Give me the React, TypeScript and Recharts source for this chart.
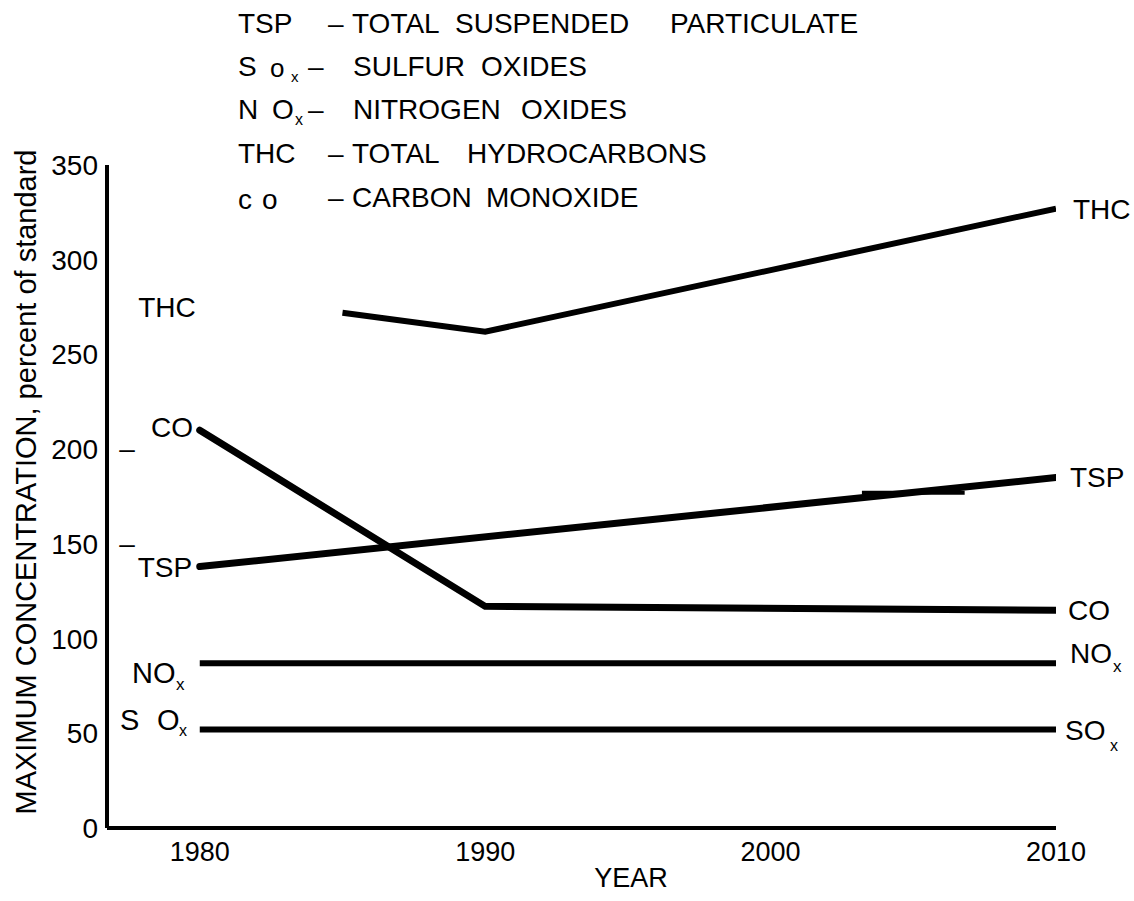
import React from 'react'
import { LineChart, Line, XAxis, YAxis } from 'recharts'

// values (percent of standard)
const years = [1980, 1985, 1990, 2010]
const thc = [null, 272, 262, 327]
const co = [210, null, 117, 115]
const tsp = [138, null, null, 185]
const nox = [87, null, null, 87]
const sox = [52, null, null, 52]

// short overdrawn stroke on the TSP line
const tspStubYears = [2003.2, 2006.8]
const tspStubValues = [177, 177]

const xTicks = [1980, 1990, 2000, 2010]
const yTicks = [0, 50, 100, 150, 200, 250, 300, 350]

const legendRows = [
  { abbr: 'TSP', words: [['TOTAL', 352], ['SUSPENDED', 455], ['PARTICULATE', 670]] },
  { abbr: 'SOx', words: [['SULFUR', 353], ['OXIDES', 481]] },
  { abbr: 'NOx', words: [['NITROGEN', 353], ['OXIDES', 521]] },
  { abbr: 'THC', words: [['TOTAL', 352], ['HYDROCARBONS', 467]] },
  { abbr: 'CO', words: [['CARBON', 352], ['MONOXIDE', 486]] },
]
const legendY = [23, 66, 109, 153, 197]

const font = '"Liberation Sans", Arial, Helvetica, sans-serif'

const data = years.map((year, i) => ({
  year,
  thc: thc[i],
  co: co[i],
  tsp: tsp[i],
  nox: nox[i],
  sox: sox[i],
}))
const stubData = tspStubYears.map((year, i) => ({ year, stub: tspStubValues[i] }))

function T({ x, y, size = 28, anchor = 'start', children }: any) {
  return (
    <text x={x} y={y} fontSize={size} textAnchor={anchor} dominantBaseline="central" fill="#000" fontFamily={font}>
      {children}
    </text>
  )
}

function Overlay() {
  return (
    <svg width={1134} height={901} style={{ position: 'absolute', left: 0, top: 0, pointerEvents: 'none' }}>
      {/* legend block */}
      {legendRows.map((row, i) => {
        const y = legendY[i]
        let abbr
        if (row.abbr === 'SOx') {
          abbr = (
            <g>
              <T x={238} y={y}>S</T>
              <T x={270} y={y + 2} size={26}>o</T>
              <T x={291} y={y + 10} size={15}>x</T>
              <T x={308} y={y}>–</T>
            </g>
          )
        } else if (row.abbr === 'NOx') {
          abbr = (
            <g>
              <T x={238} y={y}>N</T>
              <T x={272} y={y}>O</T>
              <T x={295} y={y + 10} size={16}>x</T>
              <T x={308} y={y}>–</T>
            </g>
          )
        } else if (row.abbr === 'CO') {
          abbr = (
            <g>
              <T x={238} y={y + 2}>c</T>
              <T x={262} y={y + 2}>o</T>
              <T x={328} y={y}>–</T>
            </g>
          )
        } else {
          abbr = (
            <g>
              <T x={238} y={y}>{row.abbr}</T>
              <T x={328} y={y}>–</T>
            </g>
          )
        }
        return (
          <g key={i}>
            {abbr}
            {row.words.map(([w, x]) => (
              <T key={w + x} x={x} y={y}>{w}</T>
            ))}
          </g>
        )
      })}

      {/* y axis title */}
      <text
        transform="translate(26,482) rotate(-90)"
        fontSize={29}
        textAnchor="middle"
        dominantBaseline="central"
        fontFamily={font}
        fill="#000"
      >
        MAXIMUM CONCENTRATION, percent of standard
      </text>

      {/* x axis title */}
      <T x={631} y={878} size={27} anchor="middle">YEAR</T>

      {/* left-hand series labels */}
      <T x={167} y={307} anchor="middle">THC</T>
      <T x={127} y={448} anchor="middle">–</T>
      <T x={172} y={427} anchor="middle">CO</T>
      <T x={127} y={543} anchor="middle">–</T>
      <T x={165} y={567} anchor="middle">TSP</T>
      <T x={132} y={673} size={29}>NO</T>
      <T x={176} y={684} size={17}>x</T>
      <T x={120} y={720} size={29}>S</T>
      <T x={157} y={720} size={29}>O</T>
      <T x={179} y={730} size={16}>x</T>

      {/* right-hand series labels */}
      <T x={1073} y={209}>THC</T>
      <T x={1070} y={477}>TSP</T>
      <T x={1068} y={610}>CO</T>
      <T x={1070} y={653}>NO</T>
      <T x={1113} y={666} size={17}>x</T>
      <T x={1065} y={730}>SO</T>
      <T x={1110} y={745} size={16}>x</T>
    </svg>
  )
}

export default function App() {
  return (
    <div style={{ position: 'absolute', left: 0, top: 0, width: 1134, height: 901, background: '#fff' }}>
      <LineChart width={1134} height={901} data={data} margin={{ top: 165, right: 78, bottom: 33, left: 47 }}>
        <XAxis
          dataKey="year"
          type="number"
          domain={[1976.75, 2010]}
          ticks={xTicks}
          allowDataOverflow
          height={40}
          tickSize={0}
          tickMargin={14}
          axisLine={{ stroke: '#000', strokeWidth: 4 }}
          tick={{ fill: '#000', fontSize: 27, fontFamily: font }}
        />
        <YAxis
          type="number"
          domain={[0, 350]}
          ticks={yTicks}
          width={60}
          tickSize={0}
          tickMargin={9}
          axisLine={{ stroke: '#000', strokeWidth: 4 }}
          tick={{ fill: '#000', fontSize: 28, fontFamily: font }}
        />
        <Line dataKey="thc" stroke="#000" strokeWidth={6} dot={false} connectNulls isAnimationActive={false} />
        <Line dataKey="co" stroke="#000" strokeWidth={7} strokeLinecap="round" dot={false} connectNulls isAnimationActive={false} />
        <Line dataKey="tsp" stroke="#000" strokeWidth={7} strokeLinecap="round" dot={false} connectNulls isAnimationActive={false} />
        <Line dataKey="nox" stroke="#000" strokeWidth={6} dot={false} connectNulls isAnimationActive={false} />
        <Line dataKey="sox" stroke="#000" strokeWidth={6} dot={false} connectNulls isAnimationActive={false} />
        <Line data={stubData} dataKey="stub" stroke="#000" strokeWidth={4} dot={false} isAnimationActive={false} />
      </LineChart>
      <Overlay />
    </div>
  )
}
